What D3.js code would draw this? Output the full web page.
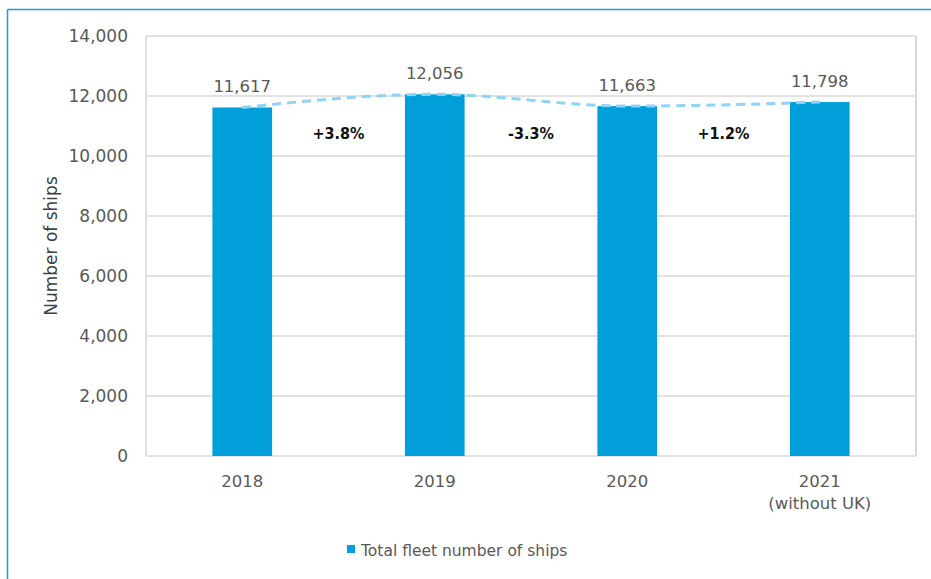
<!DOCTYPE html>
<html>
<head>
<meta charset="utf-8">
<script src="https://cdn.jsdelivr.net/npm/d3@7/dist/d3.min.js"></script>
<style>
  html, body { margin: 0; padding: 0; background: #fff; }
  svg { display: block; font-family: "DejaVu Sans", Tahoma, sans-serif; }
</style>
</head>
<body>
<svg id="chart" width="931" height="579"></svg>
<script>
// Fleet size by year
const years = ["2018", "2019", "2020", "2021"];
const yearLabels = [["2018"], ["2019"], ["2020"], ["2021", "(without UK)"]];
const ships = [11617, 12056, 11663, 11798];
const changes = ["+3.8%", "-3.3%", "+1.2%"];
const yTicks = [0, 2000, 4000, 6000, 8000, 10000, 12000, 14000];
const legendLabel = "Total fleet number of ships";
const axisTitle = "Number of ships";

const svg = d3.select("#chart");
const plot = { left: 146, right: 916, top: 36, bottom: 456 };

const x = d3.scaleBand().domain(years).range([plot.left, plot.right]).paddingInner(0.69).paddingOuter(0.345);
const xc = d3.scalePoint().domain(years).range([plot.left, plot.right]).padding(0.5);
const y = d3.scaleLinear().domain([0, 14000]).range([plot.bottom, plot.top]);
const fmt = d3.format(",");

// outer frame
svg.append("line").attr("x1", 7.5).attr("x2", 931).attr("y1", 9.5).attr("y2", 9.5)
  .attr("stroke", "#1f9bd7").attr("stroke-width", 1.5);
svg.append("line").attr("x1", 7.5).attr("x2", 7.5).attr("y1", 9.5).attr("y2", 579)
  .attr("stroke", "#1f9bd7").attr("stroke-width", 1.5);

// gridlines
svg.append("g").selectAll("line").data(yTicks).join("line")
  .attr("x1", plot.left).attr("x2", plot.right)
  .attr("y1", d => y(d)).attr("y2", d => y(d))
  .attr("stroke", "#d9d9d9").attr("stroke-width", 1.5);
// plot box sides
svg.append("line").attr("x1", plot.left).attr("x2", plot.left).attr("y1", plot.top).attr("y2", plot.bottom)
  .attr("stroke", "#d9d9d9").attr("stroke-width", 1.5);
svg.append("line").attr("x1", plot.right).attr("x2", plot.right).attr("y1", plot.top).attr("y2", plot.bottom)
  .attr("stroke", "#d9d9d9").attr("stroke-width", 2);

// y tick labels
const yAxis = d3.axisLeft(y).tickValues(yTicks).tickFormat(fmt).tickSize(0).tickPadding(18);
const ya = svg.append("g").attr("transform", `translate(${plot.left},0)`).call(yAxis);
ya.select(".domain").remove();
ya.selectAll("text").attr("font-size", 17).attr("fill", "#595959")
  .attr("font-family", "'DejaVu Sans', sans-serif");

// axis title
svg.append("text").attr("transform", "translate(57,246) rotate(-90)")
  .attr("text-anchor", "middle").attr("font-size", 17).attr("fill", "#404040")
  .text(axisTitle);

// bars
svg.append("g").selectAll("rect").data(years).join("rect")
  .attr("x", d => x(d)).attr("width", x.bandwidth())
  .attr("y", (d, i) => y(ships[i])).attr("height", (d, i) => y(0) - y(ships[i]))
  .attr("fill", "#009fda");

// trend line through bar tops
const line = d3.line().x((d, i) => xc(years[i])).y(d => y(d)).curve(d3.curveMonotoneX);
svg.append("path").datum(ships).attr("d", line)
  .attr("fill", "none").attr("stroke", "#8fd3f7").attr("stroke-width", 3)
  .attr("stroke-dasharray", "9,6");

// value labels
svg.append("g").selectAll("text").data(ships).join("text")
  .attr("x", (d, i) => xc(years[i])).attr("y", d => y(d) - 15)
  .attr("text-anchor", "middle").attr("font-size", 16.5).attr("fill", "#595959")
  .text(d => fmt(d));

// change labels between bars
svg.append("g").selectAll("text").data(changes).join("text")
  .attr("x", (d, i) => (xc(years[i]) + xc(years[i + 1])) / 2).attr("y", 139)
  .attr("text-anchor", "middle").attr("font-size", 16).attr("font-weight", "bold")
  .attr("font-family", "'DejaVu Sans Condensed', 'DejaVu Sans', sans-serif")
  .attr("fill", "#111").text(d => d);

// x labels
const xl = svg.append("g").selectAll("text").data(yearLabels).join("text")
  .attr("x", (d, i) => xc(years[i])).attr("y", 487)
  .attr("text-anchor", "middle").attr("font-size", 16.5).attr("fill", "#595959");
xl.selectAll("tspan").data(d => d).join("tspan")
  .attr("x", function () { return d3.select(this.parentNode).attr("x"); })
  .attr("dy", (d, i) => i === 0 ? 0 : 22).text(d => d);

// legend
svg.append("rect").attr("x", 347).attr("y", 545).attr("width", 8).attr("height", 8).attr("fill", "#009fda");
svg.append("text").attr("x", 361).attr("y", 556).attr("font-size", 15.5).attr("fill", "#595959").text(legendLabel);
</script>
</body>
</html>
